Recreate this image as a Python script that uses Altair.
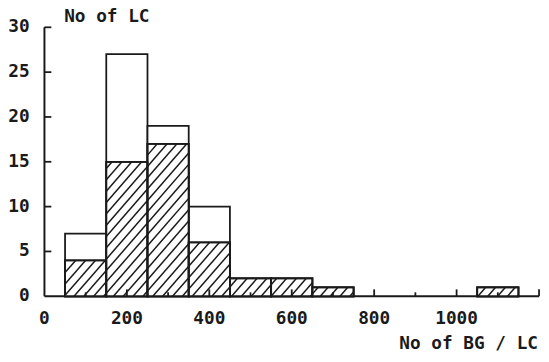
import altair as alt
import pandas as pd

# ---- data ----
bin_start = [50, 150, 250, 350, 450, 550, 650, 750, 850, 950, 1050]
bin_end = [150, 250, 350, 450, 550, 650, 750, 850, 950, 1050, 1150]
total_lc = [7, 27, 19, 10, 2, 2, 1, 0, 0, 0, 1]
hatched_lc = [4, 15, 17, 6, 2, 2, 1, 0, 0, 0, 1]

x_label_values = [0, 200, 400, 600, 800, 1000]
y_label_values = [0, 5, 10, 15, 20, 25, 30]
x_major_ticks = [200, 400, 600, 800, 1000, 1200]
x_minor_ticks = [100, 300, 500, 700, 900, 1100]
y_ticks = [5, 10, 15, 20, 25, 30]
x_title = ["No of BG / LC"]
y_title = ["No of LC"]

# ---- layout / style ----
W, H = 502, 273
X_MAX, Y_MAX = 1200, 30
INK = "#1a1a1a"
FONT = "DejaVu Sans Mono"
FS = 18

bars = pd.DataFrame({"x0": bin_start, "x1": bin_end, "total": total_lc, "hatched": hatched_lc})

# hatch segments derived from the hatched bars (diagonal lines in pixel space)
kx, ky = W / X_MAX, H / Y_MAX
step = 10.0
slope = 1.15
segs = []
for x0, x1, h in zip(bin_start, bin_end, hatched_lc):
    if h <= 0:
        continue
    X0, X1, Ht = x0 * kx, x1 * kx, h * ky
    kmin = int((X0 - Ht / slope) // step) - 1
    kmax = int(X1 // step) + 1
    for k in range(kmin, kmax + 1):
        c = k * step
        xa = max(c, X0)
        xb = min(c + Ht / slope, X1)
        if xb - xa > 0.8:
            segs.append({
                "hx": xa / kx, "hy": slope * (xa - c) / ky,
                "hx2": xb / kx, "hy2": slope * (xb - c) / ky,
            })
hatch = pd.DataFrame(segs)

x_scale = alt.Scale(domain=[0, X_MAX], nice=False, zero=False)
y_scale = alt.Scale(domain=[0, Y_MAX], nice=False)


def X(field):
    return alt.X(field, scale=x_scale, axis=None)


def Y(field):
    return alt.Y(field, scale=y_scale, axis=None)


text_style = dict(font=FONT, fontSize=FS, fontWeight="bold", color=INK)

# axis lines (drawn through the scales)
x_domain = alt.Chart(pd.DataFrame({"a": [0], "b": [X_MAX], "z": [0]})).mark_rule(
    color=INK, strokeWidth=2
).encode(x=X("a:Q"), x2="b:Q", y=Y("z:Q"))

y_domain = alt.Chart(pd.DataFrame({"z": [0], "a": [0], "b": [Y_MAX]})).mark_rule(
    color=INK, strokeWidth=2
).encode(x=X("z:Q"), y=Y("a:Q"), y2="b:Q")

base = alt.Chart(bars)

total_bars = base.transform_filter("datum.total > 0").mark_rect(
    fill="white", stroke=INK, strokeWidth=1.8
).encode(x=X("x0:Q"), x2="x1:Q", y=Y("total:Q"), y2=alt.datum(0))

hatched_bars = base.transform_filter("datum.hatched > 0").mark_rect(
    fill="white", stroke=INK, strokeWidth=1.8
).encode(x=X("x0:Q"), x2="x1:Q", y=Y("hatched:Q"), y2=alt.datum(0))

hatch_lines = alt.Chart(hatch).mark_rule(color=INK, strokeWidth=1.5).encode(
    x=X("hx:Q"), y=Y("hy:Q"), x2="hx2:Q", y2="hy2:Q",
)

hatched_outline = base.transform_filter("datum.hatched > 0").mark_rect(
    fill=None, stroke=INK, strokeWidth=1.8
).encode(x=X("x0:Q"), x2="x1:Q", y=Y("hatched:Q"), y2=alt.datum(0))

# inward-pointing ticks
xt_major = alt.Chart(pd.DataFrame({"xt": x_major_ticks})).mark_rule(
    color=INK, strokeWidth=1.8
).encode(x=X("xt:Q"), y=alt.value(H), y2=alt.value(H - 7))

xt_minor = alt.Chart(pd.DataFrame({"xt": x_minor_ticks})).mark_rule(
    color=INK, strokeWidth=1.8
).encode(x=X("xt:Q"), y=alt.value(H), y2=alt.value(H - 4))

yt = alt.Chart(pd.DataFrame({"yt": y_ticks})).mark_rule(
    color=INK, strokeWidth=1.8
).encode(y=Y("yt:Q"), x=alt.value(0), x2=alt.value(7))

# tick labels
x_labels = alt.Chart(pd.DataFrame({"v": x_label_values})).mark_text(
    align="center", baseline="top", **text_style
).encode(x=X("v:Q"), y=alt.value(H + 14), text=alt.Text("v:Q", format="d"))

y_labels = alt.Chart(pd.DataFrame({"v": y_label_values})).mark_text(
    align="right", baseline="middle", **text_style
).encode(y=Y("v:Q"), x=alt.value(-15), text=alt.Text("v:Q", format="d"))

# axis titles
x_title_mark = alt.Chart(pd.DataFrame({"t": x_title})).mark_text(
    align="right", baseline="alphabetic", **text_style
).encode(x=alt.value(W - 1), y=alt.value(H + 54), text="t:N")

y_title_mark = alt.Chart(pd.DataFrame({"t": y_title})).mark_text(
    align="left", baseline="alphabetic", **text_style
).encode(x=alt.value(20), y=alt.value(-5), text="t:N")

chart = alt.layer(
    x_domain, y_domain, total_bars, hatched_bars, hatch_lines, hatched_outline,
    xt_major, xt_minor, yt, x_labels, y_labels, x_title_mark, y_title_mark
).properties(
    width=W, height=H,
    autosize=alt.AutoSizeParams(type="none"),
    padding={"left": 37, "top": 17, "right": 2, "bottom": 56},
    background="white",
).configure_view(stroke=None)

chart.save("out.html", embed_options={"renderer": "svg", "actions": False})
